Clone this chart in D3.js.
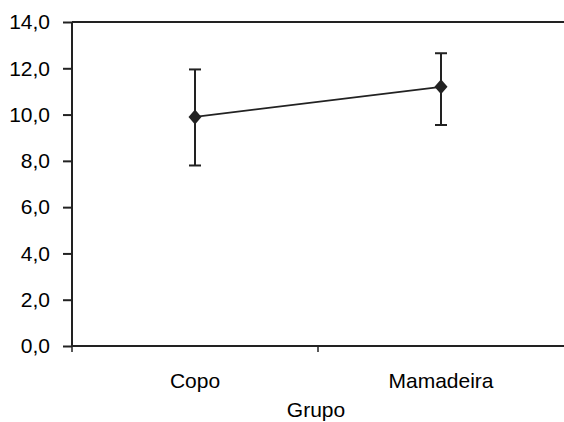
<!DOCTYPE html>
<html>
<head>
<meta charset="utf-8">
<script src="https://cdn.jsdelivr.net/npm/d3@7"></script>
<style>
  body { margin: 0; background: #fff; }
  text { font-family: "Liberation Sans", Arial, sans-serif; fill: #000; }
</style>
</head>
<body>
<div id="chart"></div>
<script>
const groups = ['Copo', 'Mamadeira'];
const means = [9.9, 11.2];
const upper = [11.95, 12.65];
const lower = [7.8, 9.55];
const yTicks = [0, 2, 4, 6, 8, 10, 12, 14];

const width = 564;
const height = 422;
const margin = {top: 22, right: 0, bottom: 76, left: 72};
const ink = '#222';
const fontSize = 21;

const svg = d3.select('#chart').append('svg')
  .attr('width', width)
  .attr('height', height);

const x = d3.scaleBand()
  .domain(groups)
  .range([margin.left, width - margin.right]);

const y = d3.scaleLinear()
  .domain([0, 14])
  .range([height - margin.bottom, margin.top]);

const fmt = d => d3.format('.1f')(d).replace('.', ',');

// y axis
svg.append('g')
  .attr('transform', `translate(${margin.left},0)`)
  .call(d3.axisLeft(y).tickValues(yTicks).tickFormat(fmt).tickSize(9).tickPadding(13))
  .call(g => g.selectAll('line, path').attr('stroke', ink).attr('stroke-width', 2))
  .call(g => g.select('.domain').attr('d', `M0,${y(14)}V${y(0)}`))
  .call(g => g.selectAll('text').attr('font-size', fontSize).attr('fill', '#000')
    .attr('font-family', '"Liberation Sans", Arial, sans-serif'));

// top border
svg.append('line')
  .attr('x1', margin.left).attr('x2', width)
  .attr('y1', y(14)).attr('y2', y(14))
  .attr('stroke', ink).attr('stroke-width', 2);

// x axis
svg.append('line')
  .attr('x1', margin.left).attr('x2', width)
  .attr('y1', y(0)).attr('y2', y(0))
  .attr('stroke', ink).attr('stroke-width', 2);

const bounds = [margin.left, x('Mamadeira')];
svg.append('g')
  .selectAll('line')
  .data(bounds)
  .join('line')
    .attr('x1', d => d).attr('x2', d => d)
    .attr('y1', y(0)).attr('y2', y(0) + 6)
    .attr('stroke', ink).attr('stroke-width', 1.5);

svg.append('g')
  .selectAll('text')
  .data(groups)
  .join('text')
    .attr('x', d => x(d) + x.bandwidth() / 2)
    .attr('y', 388)
    .attr('text-anchor', 'middle')
    .attr('font-size', fontSize)
    .text(d => d);

svg.append('text')
  .attr('x', 316)
  .attr('y', 417)
  .attr('text-anchor', 'middle')
  .attr('font-size', fontSize)
  .text('Grupo');

const cx = d => x(d) + x.bandwidth() / 2;

// error bars
const err = svg.append('g')
  .attr('stroke', ink)
  .attr('stroke-width', 2);

groups.forEach((g, i) => {
  err.append('line')
    .attr('x1', cx(g)).attr('x2', cx(g))
    .attr('y1', y(upper[i])).attr('y2', y(lower[i]));
  [upper[i], lower[i]].forEach(v => {
    err.append('line')
      .attr('x1', cx(g) - 6).attr('x2', cx(g) + 6)
      .attr('y1', y(v)).attr('y2', y(v));
  });
});

// mean line
svg.append('path')
  .datum(groups.map((g, i) => [cx(g), y(means[i])]))
  .attr('fill', 'none')
  .attr('stroke', ink)
  .attr('stroke-width', 1.8)
  .attr('d', d3.line());

// diamonds
svg.append('g')
  .selectAll('path')
  .data(groups)
  .join('path')
    .attr('transform', (d, i) => `translate(${cx(d)},${y(means[i])})`)
    .attr('d', 'M0,-7.5L6.5,0L0,7.5L-6.5,0Z')
    .attr('fill', ink);
</script>
</body>
</html>
